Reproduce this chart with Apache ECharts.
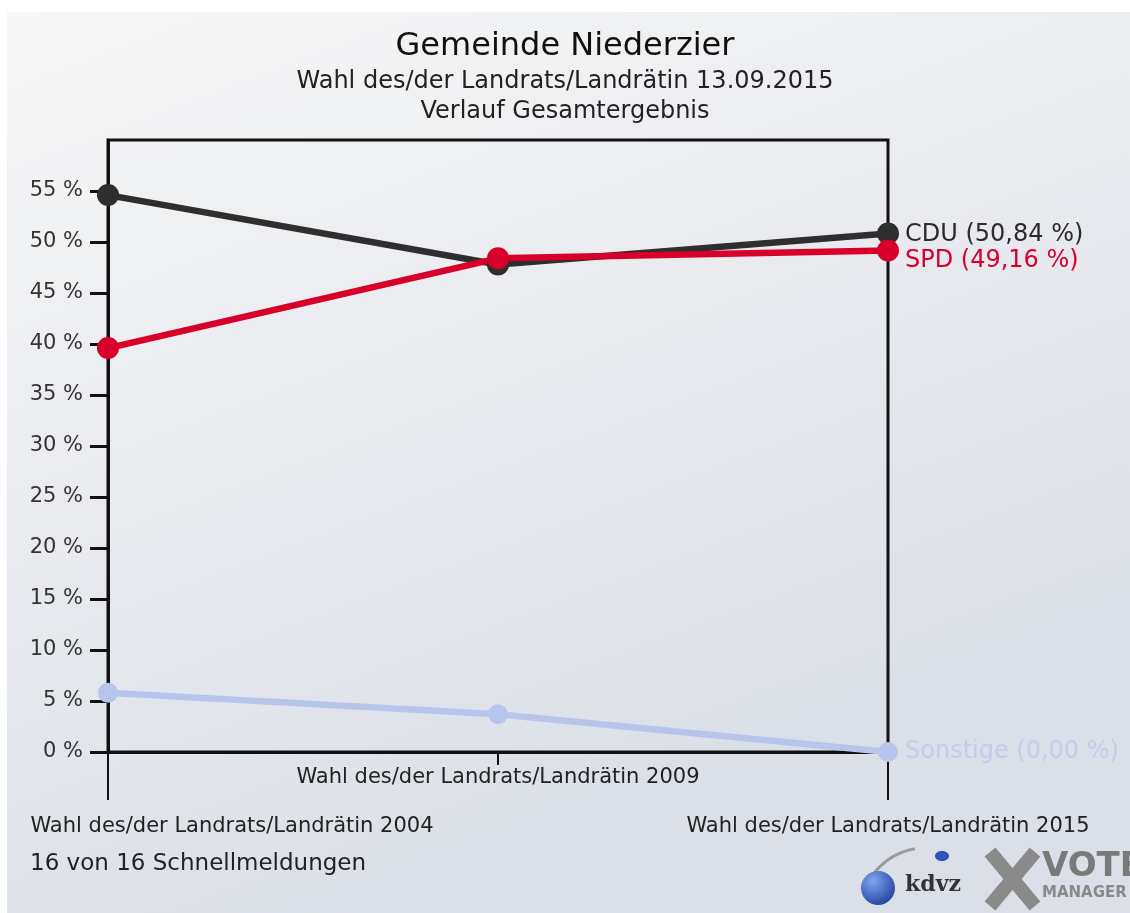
<!DOCTYPE html>
<html><head><meta charset="utf-8">
<script src="https://cdn.jsdelivr.net/npm/echarts@6/dist/echarts.min.js"></script>
<style>html,body{margin:0;padding:0;background:#fff}#c{width:1130px;height:913px}</style>
</head><body><div id="c"></div>
<script>
var categories = ['Wahl des/der Landrats/Landrätin 2004', 'Wahl des/der Landrats/Landrätin 2009', 'Wahl des/der Landrats/Landrätin 2015'];
var cduValues = [54.6, 47.8, 50.84];
var spdValues = [39.6, 48.4, 49.16];
var sonstigeValues = [5.8, 3.7, 0.00];
var yTicks = [0, 5, 10, 15, 20, 25, 30, 35, 40, 45, 50, 55];
var titleText = 'Gemeinde Niederzier';
var subText = 'Wahl des/der Landrats/Landrätin 13.09.2015\nVerlauf Gesamtergebnis';
var footerText = '16 von 16 Schnellmeldungen';

var FF = 'DejaVu Sans';
function fmtPct(v){ return v.toFixed(2).replace('.', ',') + ' %'; }

var chart = echarts.init(document.getElementById('c'), null, {renderer:'canvas'});
var lbl = {fontFamily:FF, fontSize:21, color:'#222', lineHeight:24};
chart.setOption({
  backgroundColor:'#ffffff',
  animation:false,
  graphic:[
    {type:'rect', z:-10, silent:true, shape:{x:7,y:12,width:1123,height:901},
     style:{fill:{type:'linear',x:0,y:0,x2:0.3,y2:1,colorStops:[{offset:0,color:'#f7f7f7'},{offset:1,color:'#dbdfe7'}]}}},
    {type:'text', left:30, top:853, style:{text:footerText, fontFamily:FF, fontSize:23, fill:'#222'}},
    {type:'arc', shape:{cx:925,cy:912,r:64,startAngle:Math.PI*1.15,endAngle:Math.PI*1.45}, style:{stroke:'#9a9a9a',lineWidth:3,fill:null}},
    {type:'circle', shape:{cx:878,cy:888,r:17}, style:{fill:{type:'radial',x:0.35,y:0.3,r:0.8,colorStops:[{offset:0,color:'#7fa6ee'},{offset:1,color:'#1d3f9a'}]}}},
    {type:'ellipse', shape:{cx:942,cy:856,rx:7,ry:5}, style:{fill:'#2a56b8'}},
    {type:'text', left:905, top:874, style:{text:'kdvz', fontFamily:'DejaVu Serif', fontWeight:'bold', fontSize:22, fill:'#333'}},
    {type:'line', shape:{x1:990,y1:852,x2:1035,y2:906}, style:{stroke:'#8a8a8a',lineWidth:14}},
    {type:'line', shape:{x1:1035,y1:852,x2:990,y2:906}, style:{stroke:'#8a8a8a',lineWidth:14}},
    {type:'text', left:1042, top:850, style:{text:'VOTE', fontFamily:FF, fontWeight:'bold', fontSize:34, fill:'#7a7a7a'}},
    {type:'text', left:1042, top:886, style:{text:'MANAGER', fontFamily:FF, fontWeight:'bold', fontSize:15, fill:'#8a8a8a'}}
  ],
  title:[
    {text:titleText, left:'center', top:24, textStyle:{fontFamily:FF, fontSize:32, fontWeight:'normal', color:'#111', lineHeight:36}},
    {text:subText, left:'center', top:62, textStyle:{fontFamily:FF, fontSize:24, fontWeight:'normal', color:'#222', lineHeight:30, align:'center'}}
  ],
  grid:{left:108, right:242, top:140, bottom:161, show:true, borderColor:'#111', borderWidth:3, backgroundColor:'transparent', containLabel:false, outerBoundsMode:'none'},
  xAxis:[
    {type:'category', data:categories, boundaryGap:false, position:'bottom',
     axisLine:{show:true, lineStyle:{color:'#111', width:3}},
     axisTick:{show:true, length:13, lineStyle:{color:'#111', width:2}},
     axisLabel:{show:true, interval:0, margin:14,
       formatter:function(v, i){ return i===0 ? '{l|'+v+'}' : (i===2 ? '{r|'+v+'}' : '{a|'+v+'}'); },
       rich:{
         a:lbl,
         l:Object.assign({}, lbl, {padding:[97,0,0,248]}),
         r:Object.assign({}, lbl, {padding:[97,0,0,0]})
       }},
     splitLine:{show:false}},
    {type:'category', data:categories, boundaryGap:false, position:'bottom', offset:0,
     axisLine:{show:false},
     axisTick:{show:true, length:48, interval:function(i){ return i!==1; }, lineStyle:{color:'#111', width:2}},
     axisLabel:{show:false}, splitLine:{show:false}}
  ],
  yAxis:{type:'value', min:0, max:60, interval:5,
    axisLine:{show:true, lineStyle:{color:'#111', width:3}},
    axisTick:{show:true, length:18, customValues:yTicks, lineStyle:{color:'#111', width:3}},
    axisLabel:{customValues:yTicks, margin:25, fontFamily:FF, fontSize:21, color:'#333', formatter:function(v){return v+' %';}},
    splitLine:{show:false}},
  series:[
    {name:'Sonstige', type:'line', data:sonstigeValues, xAxisIndex:0, symbol:'circle', symbolSize:20,
     lineStyle:{color:'#b7c5ec', width:6.5}, itemStyle:{color:'#b7c5ec'},
     endLabel:{show:true, distance:17, offset:[0,0], formatter:function(p){return 'Sonstige ('+fmtPct(p.value)+')';}, fontFamily:FF, fontSize:24, color:'#c3cdea'}},
    {name:'CDU', type:'line', data:cduValues, xAxisIndex:0, symbol:'circle', symbolSize:22,
     lineStyle:{color:'#2e2e2e', width:6.5}, itemStyle:{color:'#2e2e2e'},
     endLabel:{show:true, distance:17, offset:[0,1], formatter:function(p){return 'CDU ('+fmtPct(p.value)+')';}, fontFamily:FF, fontSize:24, color:'#2a2a2a'}},
    {name:'SPD', type:'line', data:spdValues, xAxisIndex:0, symbol:'circle', symbolSize:22,
     lineStyle:{color:'#d8002b', width:6.5}, itemStyle:{color:'#d8002b'},
     endLabel:{show:true, distance:17, offset:[0,10], formatter:function(p){return 'SPD ('+fmtPct(p.value)+')';}, fontFamily:FF, fontSize:24, color:'#d8002b'}}
  ]
});
</script></body></html>
